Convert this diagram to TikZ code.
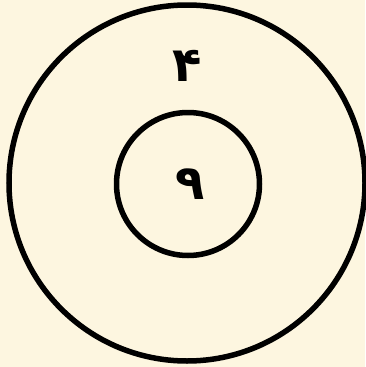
\documentclass[tikz,border=0pt]{standalone}
\usepackage{fontspec}
\newfontfamily\arabicfont[Script=Arabic]{DejaVu Sans}
\TeXXeTstate=1
\definecolor{bgc}{HTML}{FDF6E0}
\begin{document}
\begin{tikzpicture}[x=1pt,y=-1pt,
  ring/.style={draw=black,line width=5.5pt,circle,minimum size=#1,inner sep=0pt},
  digit/.style={font=\arabicfont\bfseries\fontsize{48}{52}\selectfont,inner sep=0pt}]
\fill[bgc] (0,0) rectangle (365,367);
\useasboundingbox (0,0) rectangle (365,367);
\node[ring=356pt] (outer) at (187,183) {};
\node[ring=143pt] (inner) at (188,184) {};
\node[digit] (four) at (187,66) {\beginR ۴\endR};
\node[digit] (nine) at (190,184) {\beginR ۹\endR};
\end{tikzpicture}
\end{document}
